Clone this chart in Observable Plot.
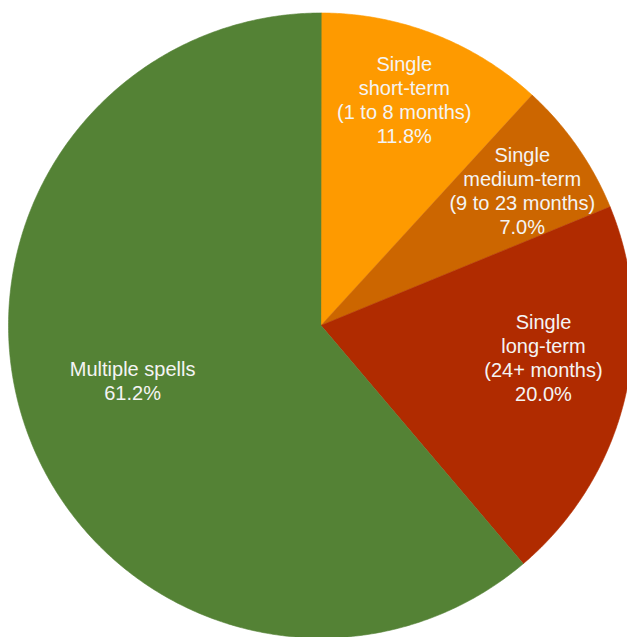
<!DOCTYPE html>
<html>
<head>
<meta charset="utf-8">
<script src="https://cdn.jsdelivr.net/npm/d3@7"></script>
<script src="https://cdn.jsdelivr.net/npm/@observablehq/plot@0.6"></script>
<style>
  html, body { margin: 0; padding: 0; background: #fff; }
</style>
</head>
<body>
<div id="chart"></div>
<script>
// Data
const categories = [
  "Single\nshort-term\n(1 to 8 months)",
  "Single\nmedium-term\n(9 to 23 months)",
  "Single\nlong-term\n(24+ months)",
  "Multiple spells"
];
const shares = [11.8, 7.0, 20.0, 61.2];
const colors = ["#fe9a00", "#cc6600", "#b02b00", "#548235"];

// Layout
const W = 627, H = 637;
const cx = 320.5, cy = 325, R = 312.5;
// label placement tweaks (angle offset from slice middle in degrees, radius fraction)
const labelPlace = [
  {dAngle: -1.0, r: 0.770},
  {dAngle: 1.0, r: 0.776},
  {dAngle: -5.6, r: 0.719},
  {dAngle: 3.9, r: 0.628}
];

const rows = categories.map((c, i) => ({category: c, value: shares[i]}));
const arcs = d3.pie().sort(null).value(d => d.value).startAngle(0).endAngle(2 * Math.PI)(rows);

// polygon vertices for each slice (unit circle coordinates, angle clockwise from top)
const pts = [];
arcs.forEach(a => {
  const cat = a.data.category;
  pts.push({category: cat, x: 0, y: 0});
  const n = Math.max(2, Math.ceil((a.endAngle - a.startAngle) / (Math.PI / 360)));
  for (let k = 0; k <= n; k++) {
    const t = a.startAngle + (a.endAngle - a.startAngle) * k / n;
    pts.push({category: cat, x: Math.sin(t), y: Math.cos(t)});
  }
});

const labels = arcs.map((a, i) => {
  const mid = (a.startAngle + a.endAngle) / 2 + labelPlace[i].dAngle * Math.PI / 180;
  const r = labelPlace[i].r;
  return {
    x: r * Math.sin(mid),
    y: r * Math.cos(mid),
    text: a.data.category + "\n" + a.data.value.toFixed(1) + "%"
  };
});

const chart = Plot.plot({
  width: W,
  height: H,
  margin: 0,
  x: {domain: [-cx / R, (W - cx) / R], range: [0, W], axis: null},
  y: {domain: [(cy - H) / R, cy / R], range: [H, 0], axis: null},
  color: {domain: categories, range: colors},
  style: {fontFamily: "'Liberation Sans', Arial, sans-serif", background: "#fff"},
  marks: [
    Plot.line(pts, {
      x: "x", y: "y", z: "category",
      fill: "category", stroke: "category", strokeWidth: 0.6,
      curve: "linear-closed"
    }),
    Plot.text(labels, {
      x: "x", y: "y", text: "text",
      fill: "#f4f4f4", fontSize: 20, lineHeight: 1.2,
      textAnchor: "middle"
    })
  ]
});
document.getElementById("chart").appendChild(chart);
</script>
</body>
</html>
